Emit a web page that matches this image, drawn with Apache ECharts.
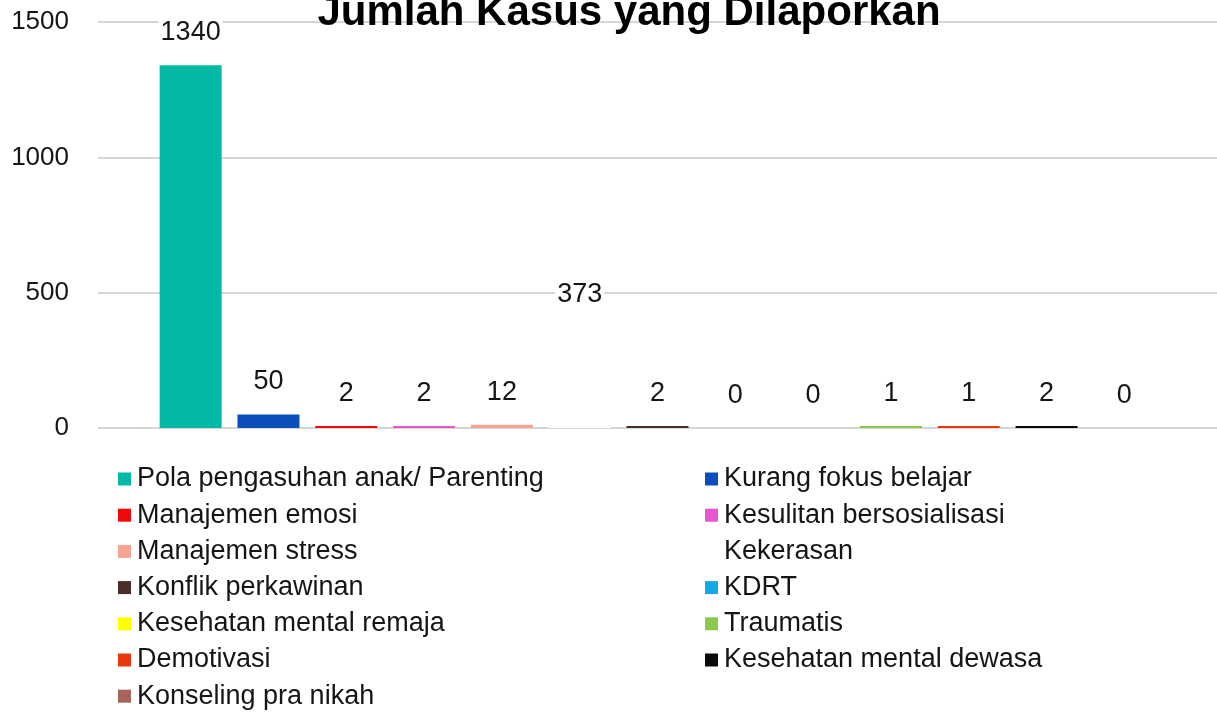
<!DOCTYPE html>
<html>
<head>
<meta charset="utf-8">
<title>Jumlah Kasus yang Dilaporkan</title>
<script src="https://cdn.jsdelivr.net/npm/echarts@6/dist/echarts.min.js"></script>
<style>
  html, body { margin: 0; padding: 0; background: #fff; }
  #chart { width: 1217px; height: 712px; }
</style>
</head>
<body>
<div id="chart"></div>
<script>
// Reported cases per counselling topic
const chartTitle = 'Jumlah Kasus yang Dilaporkan';
const caseTypes = [
  'Pola pengasuhan anak/ Parenting',
  'Kurang fokus belajar',
  'Manajemen emosi',
  'Kesulitan bersosialisasi',
  'Manajemen stress',
  'Kekerasan',
  'Konflik perkawinan',
  'KDRT',
  'Kesehatan mental remaja',
  'Traumatis',
  'Demotivasi',
  'Kesehatan mental dewasa',
  'Konseling pra nikah'
];
const caseCounts = [1340, 50, 2, 2, 12, 373, 2, 0, 0, 1, 1, 2, 0];
const caseColors = [
  '#02B9A6', '#0B4FBA', '#EE0A0A', '#E456D2', '#F6A592', '#FFFFFF',
  '#4A2E28', '#14A8E6', '#FFFF00', '#8CC84B', '#E8380D', '#0A0A0A', '#A6645C'
];
const yTicks = [0, 500, 1000, 1500];

const FONT = "'Liberation Sans', Arial, sans-serif";

const chart = echarts.init(document.getElementById('chart'), null, { renderer: 'canvas' });

const series = caseTypes.map((name, i) => ({
  name: name,
  type: 'bar',
  data: [caseCounts[i]],
  barWidth: 62,
  barGap: '25.5%',
  barMinHeight: caseCounts[i] > 0 ? 2 : 0,
  itemStyle: { color: caseColors[i] },
  label: {
    show: true,
    position: 'top',
    distance: 19,
    fontFamily: FONT,
    fontSize: 27,
    color: '#151515',
    backgroundColor: '#fff',
    padding: [0, 2]
  },
  emphasis: { disabled: true }
}));

// legend laid out in two columns, filled row by row
const leftColumn = caseTypes.filter((_, i) => i % 2 === 0);
const rightColumn = caseTypes.filter((_, i) => i % 2 === 1);
const legendBase = {
  orient: 'vertical',
  top: 461,
  height: 300,
  padding: 0,
  itemWidth: 13,
  itemHeight: 13,
  itemGap: 0.2,
  icon: 'rect',
  selectedMode: false,
  textStyle: { fontFamily: FONT, fontSize: 27, lineHeight: 36, color: '#151515', padding: [0, 0, 0, 1] }
};

chart.setOption({
  animation: false,
  backgroundColor: '#fff',
  graphic: [{
    type: 'text',
    x: 629,
    y: 13,
    style: {
      text: chartTitle,
      fontFamily: FONT,
      fontSize: 42,
      fontWeight: 'bold',
      fill: '#000',
      align: 'center',
      verticalAlign: 'middle'
    },
    z: 10
  }],
  legend: [
    Object.assign({}, legendBase, { left: 118, data: leftColumn }),
    Object.assign({}, legendBase, { left: 705, data: rightColumn })
  ],
  grid: { left: 98, right: 0, top: 22, bottom: 284, containLabel: false },
  xAxis: {
    type: 'category',
    data: [''],
    axisLine: { show: false },
    axisTick: { show: false },
    axisLabel: { show: false }
  },
  yAxis: {
    type: 'value',
    min: yTicks[0],
    max: yTicks[yTicks.length - 1],
    interval: yTicks[1] - yTicks[0],
    axisLine: { show: false },
    axisTick: { show: false },
    axisLabel: {
      fontFamily: FONT,
      fontSize: 26,
      color: '#151515',
      margin: 29,
      formatter: (v) => String(v)
    },
    splitLine: { lineStyle: { color: '#d6d6d6', width: 2 } }
  },
  series: series
});
</script>
</body>
</html>
